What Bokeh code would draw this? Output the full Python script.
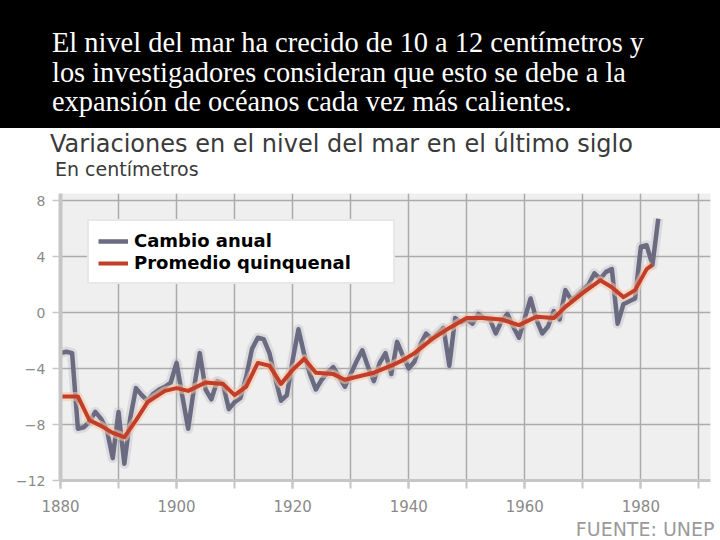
from bokeh.plotting import figure
from bokeh.models import Range1d, FixedTicker, Legend, LegendItem, Title, Div
from bokeh.layouts import column
from bokeh.embed import file_html
from bokeh.resources import INLINE

# ---------------- data ----------------
years = list(range(1880, 1984))
annual = [
    -2.9, -2.8, -2.9, -8.3, -8.2, -7.8, -7.1, -7.6, -8.4, -10.4,   # 1880-1889
    -7.1, -10.8, -7.6, -5.4, -5.9, -6.3, -5.8, -5.5, -5.3, -5.0,   # 1890-1899
    -3.6, -6.0, -8.3, -5.4, -2.9, -5.5, -6.2, -4.9, -5.1, -6.9,    # 1900-1909
    -6.4, -6.1, -4.6, -2.6, -1.8, -1.9, -2.9, -4.7, -6.3, -5.9,    # 1910-1919
    -3.4, -1.2, -3.0, -4.4, -5.5, -4.8, -4.3, -3.9, -4.6, -5.3,    # 1920-1929
    -4.4, -3.5, -2.7, -3.9, -4.9, -3.6, -2.9, -4.4, -2.1, -3.1,    # 1930-1939
    -4.0, -3.5, -2.3, -1.5, -1.9, -1.5, -1.1, -3.8, -0.4, -0.7,    # 1940-1949
    -0.5, -0.8, -0.1, -0.4, -0.5, -1.5, -0.6, -0.1, -1.0, -1.8,    # 1950-1959
    -0.4, 1.0, -0.5, -1.5, -1.0, 0.1, -0.5, 1.6, 0.9, 1.2,         # 1960-1969
    1.6, 2.0, 2.8, 2.4, 2.9, 3.1, -0.8, 0.6, 0.8, 1.0,             # 1970-1979
    4.7, 4.8, 3.4, 6.7,                                            # 1980-1983
]
avg_years = [1880, 1883, 1885, 1887, 1889, 1891, 1893, 1895, 1898, 1900,
             1902, 1905, 1908, 1910, 1912, 1914, 1916, 1918, 1920, 1922,
             1924, 1927, 1929, 1932, 1934, 1937, 1939, 1941, 1944, 1947,
             1950, 1953, 1956, 1959, 1962, 1965, 1967, 1970, 1973, 1975,
             1977, 1979, 1981, 1982]
avg_vals = [-6.0, -6.0, -7.7, -8.1, -8.6, -8.9, -7.7, -6.4, -5.6, -5.4,
            -5.6, -5.0, -5.1, -5.9, -5.3, -3.6, -3.8, -5.1, -4.1, -3.3,
            -4.3, -4.4, -4.8, -4.5, -4.3, -3.8, -3.4, -2.9, -1.9, -1.1,
            -0.4, -0.4, -0.5, -0.9, -0.3, -0.4, 0.4, 1.4, 2.3, 1.8,
            1.1, 1.6, 3.1, 3.4]

y_ticks = [-12, -8, -4, 0, 4, 8]
x_label_ticks = [1880, 1900, 1920, 1940, 1960, 1980]
x_decades = [1880, 1890, 1900, 1910, 1920, 1930, 1940, 1950, 1960, 1970, 1980, 1990]

banner_lines = [
    "El nivel del mar ha crecido de 10 a 12 centímetros y",
    "los investigadores consideran que esto se debe a la",
    "expansión de océanos cada vez más calientes.",
]
title_text = "Variaciones en el nivel del mar en el último siglo"
subtitle_text = "En centímetros"
source_text = "FUENTE: UNEP"
series_names = ["Cambio anual", "Promedio quinquenal"]

# ---------------- header (banner + chart titles) ----------------
header_html = (
    '<div style="position:relative;width:720px;height:183px;background:#fff;'
    'margin:0;padding:0;overflow:hidden;">'
    '<div style="position:absolute;left:0;top:0;width:720px;height:128px;background:#000;"></div>'
    '<div style="position:absolute;left:52px;top:28px;color:#fff;'
    'font-family:\'Liberation Serif\',serif;font-size:28.4px;line-height:29.5px;'
    'white-space:nowrap;">' + "<br>".join(banner_lines) + '</div>'
    '<div style="position:absolute;left:50px;top:132px;color:#3a3a3a;'
    'font-family:\'DejaVu Sans\',sans-serif;font-size:24px;line-height:24px;'
    'white-space:nowrap;">' + title_text + '</div>'
    '<div style="position:absolute;left:55px;top:160px;color:#3a3a3a;'
    'font-family:\'DejaVu Sans\',sans-serif;font-size:19px;line-height:19px;'
    'white-space:nowrap;">' + subtitle_text + '</div>'
    '</div>'
)
header = Div(text=header_html, width=720, height=183, margin=0,
             styles={"margin": "0", "padding": "0"})

# ---------------- chart ----------------
p = figure(width=720, height=357, x_range=Range1d(1880, 1992), y_range=Range1d(-12, 8.5),
           toolbar_location=None, output_backend="svg",
           min_border_left=60, min_border_right=10, min_border_top=10, min_border_bottom=60,
           background_fill_color="#efefef", border_fill_color="white",
           outline_line_color=None)

# axes
p.xaxis.ticker = FixedTicker(ticks=x_label_ticks, minor_ticks=x_decades)
p.xaxis.axis_line_color = "#c6c6c6"
p.xaxis.axis_line_width = 3
p.xaxis.major_tick_out = 8
p.xaxis.major_tick_in = 0
p.xaxis.minor_tick_out = 8
p.xaxis.minor_tick_in = 0
p.xaxis.major_tick_line_color = "#c6c6c6"
p.xaxis.minor_tick_line_color = "#c6c6c6"
p.xaxis.major_tick_line_width = 2
p.xaxis.minor_tick_line_width = 2
p.xaxis.major_label_text_color = "#8a8a8a"
p.xaxis.major_label_text_font = "DejaVu Sans"
p.xaxis.major_label_text_font_size = "15px"
p.xaxis.major_label_standoff = 11

p.yaxis.ticker = FixedTicker(ticks=y_ticks, minor_ticks=[])
p.yaxis.axis_line_color = "#c6c6c6"
p.yaxis.axis_line_width = 4
p.yaxis.major_tick_out = 8
p.yaxis.major_tick_in = 0
p.yaxis.major_tick_line_color = "#c6c6c6"
p.yaxis.major_tick_line_width = 1.5
p.yaxis.minor_tick_line_color = None
p.yaxis.major_label_text_color = "#8a8a8a"
p.yaxis.major_label_text_font = "DejaVu Sans"
p.yaxis.major_label_text_font_size = "14px"
p.yaxis.major_label_standoff = 7

p.xgrid.ticker = FixedTicker(ticks=x_decades)
p.xgrid.grid_line_color = "#ababab"
p.xgrid.grid_line_width = 1.5
p.ygrid.grid_line_color = "#ababab"
p.ygrid.grid_line_width = 1.5

# series
p.line(years, annual, color="#a9a9b8", line_width=10, alpha=0.3, line_join="round")
r1 = p.line(years, annual, color="#6a6a80", line_width=4.5, line_join="round")
p.line(avg_years, avg_vals, color="#f7c7a6", line_width=9, alpha=0.55, line_join="round")
r2 = p.line(avg_years, avg_vals, color="#c33e28", line_width=4, line_join="round")

legend = Legend(items=[LegendItem(label=series_names[0], renderers=[r1]),
                       LegendItem(label=series_names[1], renderers=[r2])],
                location=(27, 196))
legend.background_fill_color = "white"
legend.background_fill_alpha = 1
legend.border_line_color = "#cfcfcf"
legend.border_line_width = 2
legend.label_text_font = "DejaVu Sans"
legend.label_text_font_style = "bold"
legend.label_text_font_size = "18px"
legend.label_text_color = "black"
legend.glyph_width = 30
legend.glyph_height = 20
legend.label_height = 20
legend.label_width = 250
legend.label_standoff = 6
legend.spacing = 1
legend.padding = 9
legend.margin = 0
p.add_layout(legend)

p.add_layout(Title(text=source_text, align="right", offset=-4, standoff=2,
                   text_font="DejaVu Sans", text_font_size="19px", text_font_style="normal",
                   text_color="#9a9a9a"), "below")

layout = column(header, p, spacing=0)
open("out.html", "w").write(file_html(layout, INLINE, title="Nivel del mar"))
